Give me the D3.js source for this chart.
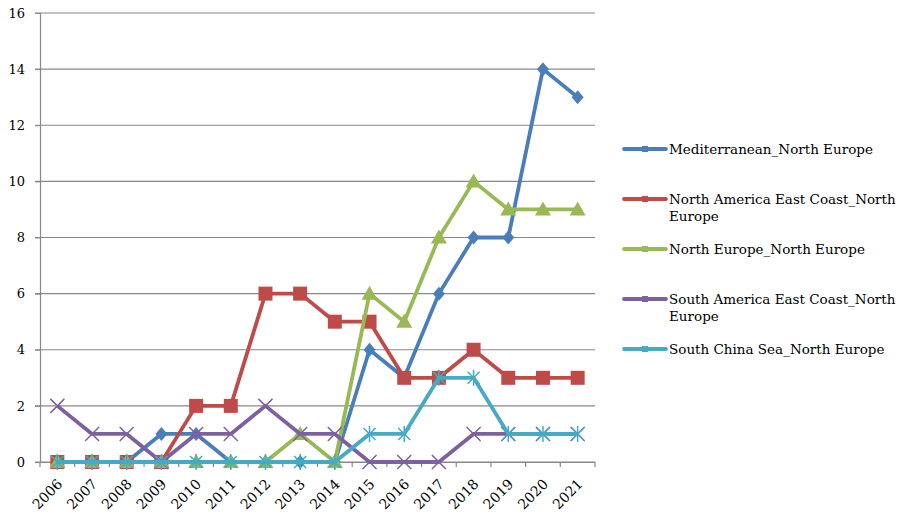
<!DOCTYPE html>
<html>
<head>
<meta charset="utf-8">
<script src="https://cdn.jsdelivr.net/npm/d3@7"></script>
<style>
    body { margin: 0; background: #fff; }
    svg text { font-family: "DejaVu Serif", serif; fill: #000; }
</style>
</head>
<body>
<div id="container"></div>
<script>
"use strict";

const YEARS = ["2006", "2007", "2008", "2009", "2010", "2011", "2012", "2013",
    "2014", "2015", "2016", "2017", "2018", "2019", "2020", "2021"];

const MEDITERRANEAN = [0, 0, 0, 1, 1, 0, 0, 0, 0, 4, 3, 6, 8, 8, 14, 13];
const NORTH_AMERICA = [0, 0, 0, 0, 2, 2, 6, 6, 5, 5, 3, 3, 4, 3, 3, 3];
const NORTH_EUROPE = [0, 0, 0, 0, 0, 0, 0, 1, 0, 6, 5, 8, 10, 9, 9, 9];
const SOUTH_AMERICA = [2, 1, 1, 0, 1, 1, 2, 1, 1, 0, 0, 0, 1, 1, 1, 1];
const SOUTH_CHINA = [0, 0, 0, 0, 0, 0, 0, 0, 0, 1, 1, 3, 3, 1, 1, 1];

const Y_TICKS = [0, 2, 4, 6, 8, 10, 12, 14, 16];

const SERIES = [
    { name: ["Mediterranean_North Europe"], values: MEDITERRANEAN, color: "#4A7EBB", marker: "diamond", ly: 149 },
    { name: ["North America East Coast_North", "Europe"], values: NORTH_AMERICA, color: "#BE4B48", marker: "square", ly: 199 },
    { name: ["North Europe_North Europe"], values: NORTH_EUROPE, color: "#98B954", marker: "triangle", ly: 249 },
    { name: ["South America East Coast_North", "Europe"], values: SOUTH_AMERICA, color: "#7D60A0", marker: "x", ly: 299 },
    { name: ["South China Sea_North Europe"], values: SOUTH_CHINA, color: "#46AAC5", marker: "star", ly: 349 }
];

const WIDTH = 897;
const HEIGHT = 514;
const LEFT = 40;
const RIGHT = 595;
const TOP = 13;
const BOTTOM = 462;

const SVG = d3.select("#container").append("svg")
    .attr("width", WIDTH)
    .attr("height", HEIGHT);

const xScale = d3.scaleBand().domain(YEARS).range([LEFT, RIGHT]);
const yScale = d3.scaleLinear().domain([0, 16]).range([BOTTOM, TOP]);

// gridlines
SVG.append("g")
    .selectAll("line")
    .data(Y_TICKS)
    .join("line")
    .attr("x1", LEFT - 5)
    .attr("x2", RIGHT)
    .attr("y1", d => yScale(d))
    .attr("y2", d => yScale(d))
    .attr("stroke", "#888")
    .attr("stroke-width", 1.2);

// y axis
const yaxis = d3.axisLeft(yScale).tickValues(Y_TICKS).tickSize(5).tickPadding(10);
const yg = SVG.append("g")
    .attr("transform", `translate(${LEFT},0)`)
    .call(yaxis);
yg.select(".domain").attr("stroke", "#888").attr("stroke-width", 1.2);
yg.selectAll(".tick line").attr("stroke", "#888");
yg.selectAll("text").style("font-size", "13px");

// x axis
const xaxis = d3.axisBottom(xScale).tickSize(0).tickPadding(0);
const xg = SVG.append("g")
    .attr("transform", `translate(0,${BOTTOM})`)
    .call(xaxis);
xg.select(".domain").attr("stroke", "#888").attr("stroke-width", 1.2);
xg.selectAll(".tick text")
    .style("font-size", "14px")
    .attr("text-anchor", "end")
    .attr("y", 0)
    .attr("dy", "0")
    .attr("transform", "translate(6,23) rotate(-45)");
xg.selectAll(".edge")
    .data(d3.range(YEARS.length + 1))
    .join("line")
    .attr("class", "edge")
    .attr("x1", i => LEFT + i * xScale.bandwidth())
    .attr("x2", i => LEFT + i * xScale.bandwidth())
    .attr("y1", 0)
    .attr("y2", 5)
    .attr("stroke", "#888")
    .attr("stroke-width", 1.2);

const cx = i => xScale(YEARS[i]) + xScale.bandwidth() / 2;

const line = d3.line()
    .x((d, i) => cx(i))
    .y(d => yScale(d));

function drawMarker(g, type, color, x, y) {
    if (type === "diamond") {
        g.append("path").attr("d", `M${x},${y - 7}L${x + 6},${y}L${x},${y + 7}L${x - 6},${y}Z`)
            .attr("fill", color);
    } else if (type === "square") {
        g.append("rect").attr("x", x - 7).attr("y", y - 7).attr("width", 14).attr("height", 14)
            .attr("fill", color);
    } else if (type === "triangle") {
        g.append("path").attr("d", `M${x},${y - 8}L${x + 8},${y + 6}L${x - 8},${y + 6}Z`)
            .attr("fill", color);
    } else if (type === "x") {
        g.append("path").attr("d", `M${x - 7},${y - 7}L${x + 7},${y + 7}M${x - 7},${y + 7}L${x + 7},${y - 7}`)
            .attr("stroke", color).attr("stroke-width", 1.5);
    } else if (type === "star") {
        g.append("path").attr("d", `M${x - 6},${y - 6}L${x + 6},${y + 6}M${x - 6},${y + 6}L${x + 6},${y - 6}M${x},${y - 8}L${x},${y + 8}`)
            .attr("stroke", color).attr("stroke-width", 1.5);
    }
}

const lines = SVG.append("g");

SERIES.forEach(function (s) {
    const g = lines.append("g");
    g.append("path")
        .attr("d", line(s.values))
        .attr("fill", "none")
        .attr("stroke", s.color)
        .attr("stroke-width", 3.8)
        .attr("stroke-linejoin", "round");
    s.values.forEach((v, i) => drawMarker(g, s.marker, s.color, cx(i), yScale(v)));
});

// legend
const legend = SVG.append("g");
SERIES.forEach(function (s) {
    const g = legend.append("g");
    g.append("line")
        .attr("x1", 624).attr("x2", 666)
        .attr("y1", s.ly).attr("y2", s.ly)
        .attr("stroke", s.color)
        .attr("stroke-width", 3.8)
        .attr("stroke-linecap", "round");
    g.append("rect")
        .attr("x", 642).attr("y", s.ly - 3)
        .attr("width", 6).attr("height", 6)
        .attr("fill", s.color);
    s.name.forEach(function (t, k) {
        g.append("text")
            .attr("x", 669)
            .attr("y", s.ly + 5 + k * 17)
            .style("font-size", "13.5px")
            .text(t);
    });
});
</script>
</body>
</html>
